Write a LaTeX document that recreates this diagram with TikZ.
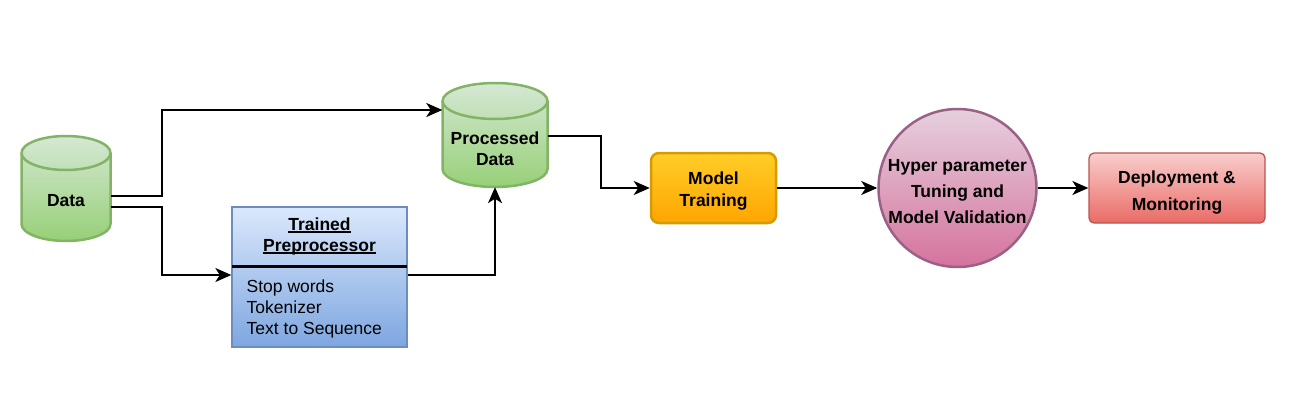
\documentclass[tikz,border=0pt]{standalone}
\usepackage{fontspec}
\setmainfont{Liberation Sans}
\usetikzlibrary{arrows.meta,calc,shapes.geometric}
\definecolor{gtop}{HTML}{D5E8D4}\definecolor{gbot}{HTML}{97D077}\definecolor{gstr}{HTML}{82B366}
\definecolor{btop}{HTML}{DAE8FC}\definecolor{bbot}{HTML}{7EA6E0}\definecolor{bstr}{HTML}{6C8EBF}
\definecolor{otop}{HTML}{FFCD28}\definecolor{obot}{HTML}{FFA500}\definecolor{ostr}{HTML}{D79B00}
\definecolor{ptop}{HTML}{E6D0DE}\definecolor{pbot}{HTML}{D5739D}\definecolor{pstr}{HTML}{996185}
\definecolor{rtop}{HTML}{F8CECC}\definecolor{rbot}{HTML}{EA6B66}\definecolor{rstr}{HTML}{B85450}
\newcommand\myul[1]{\setbox0\hbox{#1}\rlap{\rule[-2.6pt]{\wd0}{1.3pt}}\box0}
\tikzset{
  cylstyle/.style={draw=gstr,line width=2.5pt,top color=gtop,bottom color=gbot},
  anchorbox/.style={draw=none,inner sep=0pt,rectangle},
  txt/.style={inner sep=0pt,align=center,font=\fontsize{17.5}{21}\selectfont\bfseries},
  arr/.style={line width=2pt,-{Stealth[length=16pt,width=14pt,inset=4.5pt]}},
  mtbox/.style={draw=ostr,line width=2.5pt,top color=otop,bottom color=obot,rounded corners=8pt,
     minimum width=125pt,minimum height=70pt,inner sep=0pt},
  circbox/.style={circle,draw=pstr,line width=2.5pt,top color=ptop,bottom color=pbot,
     minimum size=158pt,inner sep=0pt},
  depbox/.style={draw=rstr,line width=1.3pt,top color=rtop,bottom color=rbot,rounded corners=5pt,
     minimum width=176pt,minimum height=70pt,inner sep=0pt},
  prebox/.style={draw=bstr,line width=1.3pt,top color=btop,bottom color=bbot,inner sep=0pt,
     minimum width=175pt,minimum height=140pt},
}
\begin{document}
\begin{tikzpicture}[x=1pt,y=1pt]
\useasboundingbox (0,0) rectangle (1302,-412);
% Data cylinder
\path[cylstyle] (21.5,-153) -- (21.5,-224) arc[start angle=180,end angle=360,x radius=44.5,y radius=17]
  -- (110.5,-153) arc[start angle=0,end angle=180,x radius=44.5,y radius=17] -- cycle;
\draw[draw=gstr,line width=2.5pt] (21.5,-153) arc[start angle=180,end angle=360,x radius=44.5,y radius=17];
\node[anchorbox,minimum width=89pt,minimum height=105pt] (data) at (66,-188.5) {};
\node[txt] (datatxt) at (66,-200.5) {Data};
% Processed data cylinder
\path[cylstyle] (442.5,-101) -- (442.5,-169) arc[start angle=180,end angle=360,x radius=52.5,y radius=18]
  -- (547.5,-101) arc[start angle=0,end angle=180,x radius=52.5,y radius=18] -- cycle;
\draw[draw=gstr,line width=2.5pt] (442.5,-101) arc[start angle=180,end angle=360,x radius=52.5,y radius=18];
\node[anchorbox,minimum width=105pt,minimum height=104pt] (proc) at (495,-135) {};
\node[txt,font=\fontsize{17.5}{20.5}\selectfont\bfseries] (proctxt) at (495,-148.5) {Processed\\Data};
% Trained preprocessor
\node[prebox] (pre) at (319.5,-277) {};
\draw[line width=3pt] (232,-266) -- (407,-266);
\node[txt] (pretitle) at (319.5,-236) {\myul{Trained}\\\myul{Preprocessor}};
\node[inner sep=0pt,align=left,anchor=north west,font=\fontsize{17.5}{21}\selectfont] (preitems) at (246.5,-280)
  {Stop words\\Tokenizer\\Text to Sequence};
% Model training
\node[mtbox] (mt) at (713.5,-188) {};
\node[txt,font=\fontsize{17.5}{22}\selectfont\bfseries] (mttxt) at (713.5,-191) {Model\\Training};
% Hyper parameter circle
\node[circbox] (hp) at (957.5,-188) {};
\node[txt,font=\fontsize{17.5}{26}\selectfont\bfseries] (hptxt) at (957.5,-191.5) {Hyper parameter\\Tuning and\\Model Validation};
% Deployment
\node[depbox] (dep) at (1177,-188) {};
\node[txt,font=\fontsize{17.5}{27}\selectfont\bfseries] (deptxt) at (1177,-193) {Deployment \&\\Monitoring};
% connectors
\draw[arr] ([yshift=-7pt]data.east) -- (162,-195.5) -- (162,-110) -- ([yshift=25pt]proc.west);
\draw[arr] ([yshift=-18pt]data.east) -- (162,-206.5) -- (162,-275) -- ([yshift=2pt]pre.west);
\draw[arr] ([yshift=2pt]pre.east) -| (proc.south);
\draw[arr] ([yshift=-1pt]proc.east) -- (601,-136) |- (mt.west);
\draw[arr] (mt.east) -- (hp.west);
\draw[arr] (hp.east) -- (dep.west);
\end{tikzpicture}
\end{document}
